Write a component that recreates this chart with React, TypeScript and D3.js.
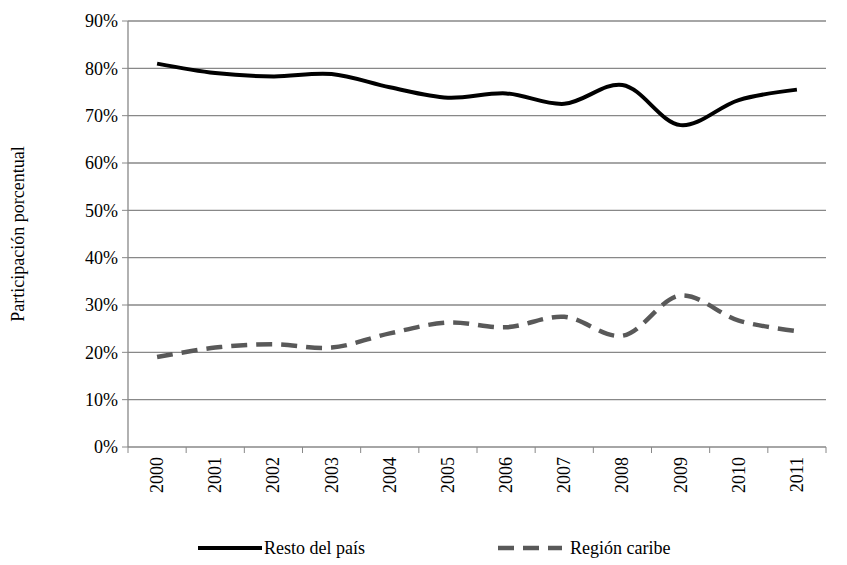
import React from 'react';
import * as d3 from 'd3';

const years = ['2000','2001','2002','2003','2004','2005','2006','2007','2008','2009','2010','2011'];
const resto = [81, 79, 78.3, 78.8, 76, 73.8, 74.7, 72.5, 76.5, 68, 73.3, 75.5];
const caribe = [19, 21, 21.7, 21, 24, 26.3, 25.3, 27.5, 23.5, 32, 26.7, 24.5];
const yTicks = [0, 10, 20, 30, 40, 50, 60, 70, 80, 90];

const W = 847, H = 565;
const left = 128, right = 826, top = 21, bottom = 447;

export default function App() {
  const x = d3.scaleBand().domain(years).range([left, right]);
  const y = d3.scaleLinear().domain([0, 90]).range([bottom, top]);
  const line = d3.line<number>()
    .x((_, i) => (x(years[i]) as number) + x.bandwidth() / 2)
    .y(d => y(d))
    .curve(d3.curveCatmullRom.alpha(0.5));
  return (
    <svg width={W} height={H} style={{ position: 'absolute', left: 0, top: 0, fontFamily: "'Liberation Serif', 'DejaVu Serif', serif" }}>
      <rect width={W} height={H} fill="#fff" />
      {yTicks.map(t => (
        <g key={t}>
          {t > 0 && <line x1={left} x2={right} y1={y(t)} y2={y(t)} stroke="#888" strokeWidth={1.3} />}
          <line x1={left - 6} x2={left} y1={y(t)} y2={y(t)} stroke="#888" />
          <text x={left - 10} y={y(t)} dy="0.35em" textAnchor="end" fontSize={18}>{t}%</text>
        </g>
      ))}
      <line x1={left} x2={left} y1={top} y2={bottom} stroke="#888" strokeWidth={1.3} />
      <line x1={left} x2={right} y1={bottom} y2={bottom} stroke="#888" strokeWidth={1.3} />
      {years.map((yr, i) => (
        <line key={'t' + yr} x1={left + i * x.step()} x2={left + i * x.step()} y1={bottom} y2={bottom + 6} stroke="#888" />
      ))}
      <line x1={right} x2={right} y1={bottom} y2={bottom + 6} stroke="#888" />
      {years.map(yr => {
        const cx = (x(yr) as number) + x.bandwidth() / 2;
        return (
          <text key={yr} transform={`translate(${cx + 6},${bottom + 10}) rotate(-90)`} textAnchor="end" fontSize={18}>{yr}</text>
        );
      })}
      <path d={line(caribe) || ''} fill="none" stroke="#595959" strokeWidth={4.5} strokeDasharray="16 9" />
      <path d={line(resto) || ''} fill="none" stroke="#000" strokeWidth={4} />
      <text transform={`translate(24,${(top + bottom) / 2}) rotate(-90)`} textAnchor="middle" fontSize={18}>Participación porcentual</text>
      <line x1={198} x2={262} y1={548} y2={548} stroke="#000" strokeWidth={4} />
      <text x={264} y={554} fontSize={18}>Resto del país</text>
      <line x1={498} x2={562} y1={548} y2={548} stroke="#595959" strokeWidth={4.5} strokeDasharray="16 9" />
      <text x={570} y={554} fontSize={18}>Región caribe</text>
    </svg>
  );
}
